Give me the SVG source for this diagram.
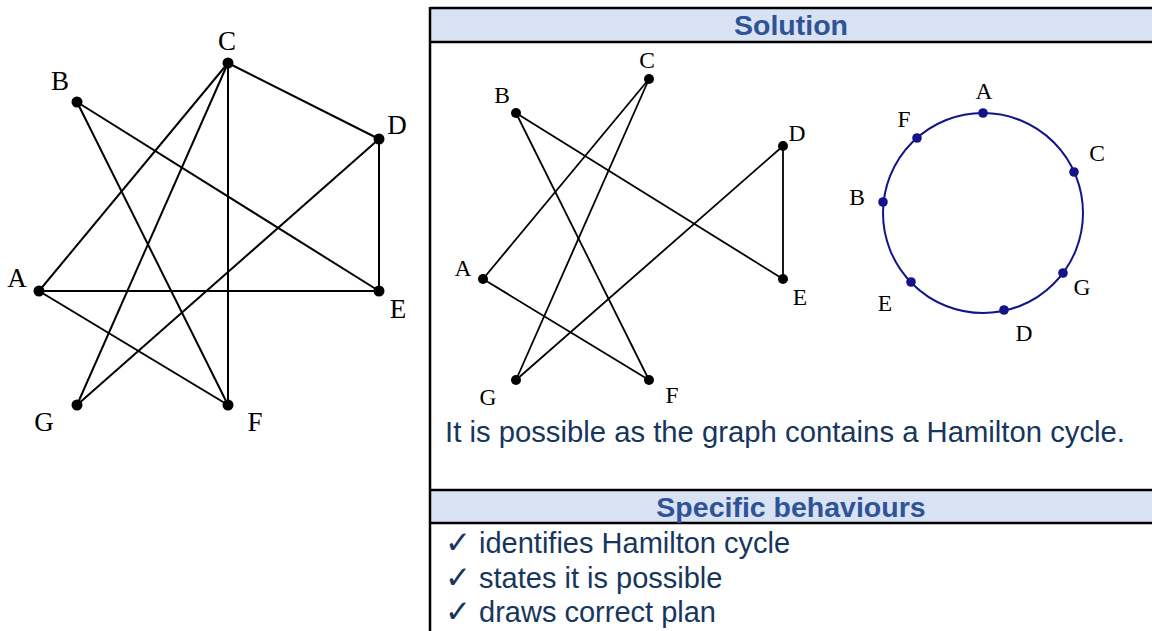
<svg xmlns="http://www.w3.org/2000/svg" width="1152" height="631" viewBox="0 0 1152 631">
<style>
.e{stroke:#000;stroke-width:2;fill:none}
.e2{stroke:#000;stroke-width:1.8;fill:none}
.n{fill:#000}
.lb{font-family:"Liberation Serif",serif;font-size:27px;fill:#000;text-anchor:middle}
.lb2{font-family:"Liberation Serif",serif;font-size:23.5px;fill:#000;text-anchor:middle}
.cn{fill:#14148a}
.hd{font-family:"Liberation Sans",Arial,sans-serif;font-size:28.5px;font-weight:bold;fill:#2F5496;text-anchor:middle}
.tx{font-family:"Liberation Sans",Arial,sans-serif;font-size:29px;fill:#17365D}
.ck{font-family:"DejaVu Sans",sans-serif;font-size:31px}
.band{fill:#D9E2F3}
.bd{stroke:#000;stroke-width:2.5;fill:none}
</style>
<rect width="1152" height="631" fill="#fff"/>

<!-- Left graph -->
<g id="left-connectors">
<line class="e" x1="228" y1="63" x2="379" y2="139"/>
<line class="e" x1="228" y1="63" x2="39" y2="291"/>
<line class="e" x1="228" y1="63" x2="77" y2="405"/>
<line class="e" x1="228" y1="63" x2="228" y2="405"/>
<line class="e" x1="77" y1="102" x2="379" y2="291"/>
<line class="e" x1="77" y1="102" x2="228" y2="405"/>
<line class="e" x1="379" y1="139" x2="379" y2="291"/>
<line class="e" x1="379" y1="139" x2="77" y2="405"/>
<line class="e" x1="39" y1="291" x2="379" y2="291"/>
<line class="e" x1="39" y1="291" x2="228" y2="405"/>
</g>
<g id="L-A"><circle class="n" cx="39" cy="291" r="5.5"/><text class="lb" x="17" y="287">A</text></g>
<g id="L-B"><circle class="n" cx="77" cy="102" r="5.5"/><text class="lb" x="60" y="90">B</text></g>
<g id="L-C"><circle class="n" cx="228" cy="63" r="5.5"/><text class="lb" x="227" y="50">C</text></g>
<g id="L-D"><circle class="n" cx="379" cy="139" r="5.5"/><text class="lb" x="397" y="134">D</text></g>
<g id="L-E"><circle class="n" cx="379" cy="291" r="5.5"/><text class="lb" x="398" y="318">E</text></g>
<g id="L-F"><circle class="n" cx="228" cy="405" r="5.5"/><text class="lb" x="255" y="431">F</text></g>
<g id="L-G"><circle class="n" cx="77" cy="405" r="5.5"/><text class="lb" x="44" y="431">G</text></g>

<!-- Table -->
<g id="table">
<rect class="band" x="430" y="8" width="722" height="34"/>
<rect class="band" x="430" y="490" width="722" height="33"/>
<line class="bd" x1="430" y1="8" x2="1152" y2="8"/>
<line class="bd" x1="430" y1="42" x2="1152" y2="42"/>
<line class="bd" x1="430" y1="490" x2="1152" y2="490"/>
<line class="bd" x1="430" y1="523" x2="1152" y2="523"/>
<line class="bd" x1="430" y1="7" x2="430" y2="631"/>
<text class="hd" x="791" y="35">Solution</text>
<text class="hd" x="791" y="517">Specific behaviours</text>
<text class="tx" x="445" y="442" textLength="680" lengthAdjust="spacingAndGlyphs">It is possible as the graph contains a Hamilton cycle.</text>
<text class="tx" x="445" y="553"><tspan class="ck">✓</tspan> identifies Hamilton cycle</text>
<text class="tx" x="445" y="588"><tspan class="ck">✓</tspan> states it is possible</text>
<text class="tx" x="445" y="622"><tspan class="ck">✓</tspan> draws correct plan</text>
</g>

<!-- Middle graph -->
<g id="mid-connectors">
<line class="e2" x1="649" y1="79" x2="483" y2="279"/>
<line class="e2" x1="649" y1="79" x2="516" y2="380"/>
<line class="e2" x1="516" y1="113" x2="783" y2="279"/>
<line class="e2" x1="516" y1="113" x2="649" y2="380"/>
<line class="e2" x1="783" y1="146" x2="783" y2="279"/>
<line class="e2" x1="783" y1="146" x2="516" y2="380"/>
<line class="e2" x1="483" y1="279" x2="649" y2="380"/>
</g>
<g id="M-A"><circle class="n" cx="483" cy="279" r="5"/><text class="lb2" x="463" y="276">A</text></g>
<g id="M-B"><circle class="n" cx="516" cy="113" r="5"/><text class="lb2" x="502" y="103">B</text></g>
<g id="M-C"><circle class="n" cx="649" cy="79" r="5"/><text class="lb2" x="647" y="68">C</text></g>
<g id="M-D"><circle class="n" cx="783" cy="146" r="5"/><text class="lb2" x="797" y="141">D</text></g>
<g id="M-E"><circle class="n" cx="783" cy="279" r="5"/><text class="lb2" x="800" y="305">E</text></g>
<g id="M-F"><circle class="n" cx="649" cy="380" r="5"/><text class="lb2" x="672" y="403">F</text></g>
<g id="M-G"><circle class="n" cx="516" cy="380" r="5"/><text class="lb2" x="488" y="405">G</text></g>

<!-- Circle plan -->
<g id="circle-connectors">
<circle cx="983" cy="213" r="100" fill="none" stroke="#14148a" stroke-width="2"/>
</g>
<g id="P-A"><circle class="cn" cx="983" cy="113" r="4.8"/><text class="lb2" x="984" y="99">A</text></g>
<g id="P-F"><circle class="cn" cx="917" cy="138" r="4.8"/><text class="lb2" x="904" y="127">F</text></g>
<g id="P-C"><circle class="cn" cx="1074" cy="172" r="4.8"/><text class="lb2" x="1097" y="161">C</text></g>
<g id="P-B"><circle class="cn" cx="883" cy="202" r="4.8"/><text class="lb2" x="857" y="205">B</text></g>
<g id="P-G"><circle class="cn" cx="1063" cy="273" r="4.8"/><text class="lb2" x="1082" y="295">G</text></g>
<g id="P-E"><circle class="cn" cx="911" cy="282" r="4.8"/><text class="lb2" x="885" y="311">E</text></g>
<g id="P-D"><circle class="cn" cx="1004" cy="310" r="4.8"/><text class="lb2" x="1024" y="341">D</text></g>
</svg>
